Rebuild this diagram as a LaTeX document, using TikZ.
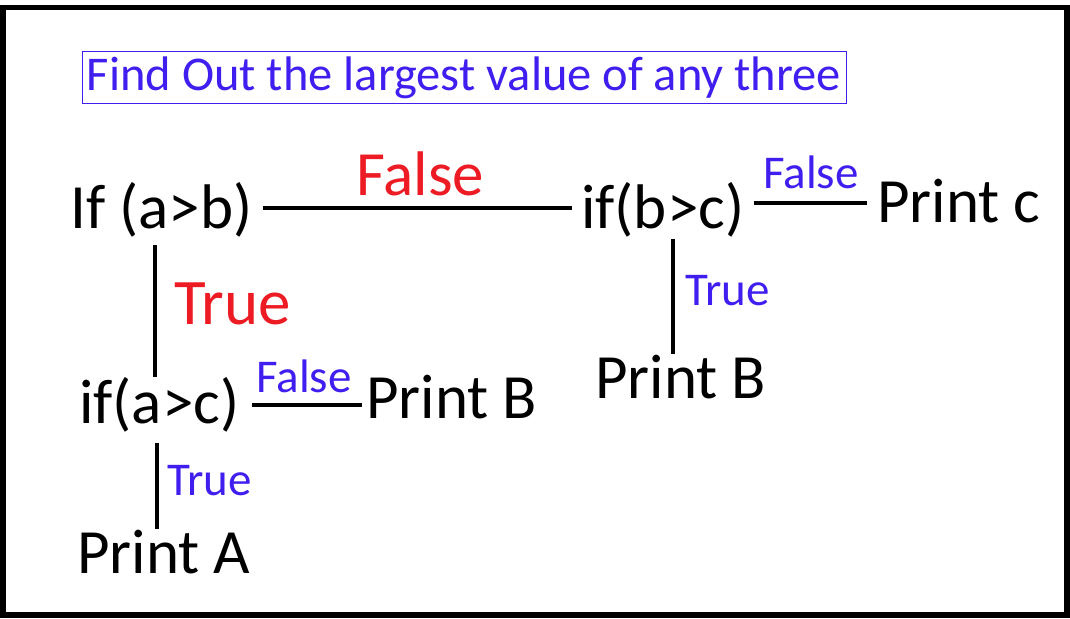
\documentclass[tikz,border=0pt]{standalone}
\usepackage{fontspec}
\setmainfont{Carlito}
\definecolor{tblue}{RGB}{64,30,240}
\definecolor{tred}{RGB}{237,28,36}
\begin{document}
\begin{tikzpicture}[x=1pt,y=-1pt,
  txt/.style={inner sep=0pt,anchor=base west,font=\fontsize{63}{70}\selectfont},
  biglbl/.style={inner sep=0pt,anchor=base west,text=tred,font=\fontsize{#1}{68}\selectfont},
  smalllbl/.style={inner sep=0pt,anchor=base west,text=tblue,font=\fontsize{47}{52}\selectfont},
  conn/.style={line width=4.6pt,draw=black}]
\useasboundingbox (0,0) rectangle (1070,618);
\draw[line width=5.5pt] (3,7.5) rectangle (1067,615);
\node[draw=tblue,line width=1pt,minimum width=764pt,minimum height=51pt,inner sep=0pt,
  text=tblue,font=\fontsize{48.5}{54}\selectfont] (title) at (464,77.5) {Find Out the largest value of any three};
% main nodes
\node[txt] (ab) at (70,228) {If (a>b)};
\node[txt] (bc) at (581,228) {if(b>c)};
\node[txt] (pc) at (877,222) {Print c};
\node[txt] (pbr) at (595,398) {Print B};
\node[txt] (ac) at (79,423) {if(a>c)};
\node[txt] (pbl) at (366,418) {Print B};
\node[txt] (pa) at (77,573) {Print A};
% connectors
\draw[conn] ([xshift=10pt]ab.east |- 0,208) -- ([xshift=-9pt]bc.west |- 0,208);
\draw[conn] ([xshift=10pt]bc.east |- 0,203) -- ([xshift=-10pt]pc.west |- 0,203);
\draw[conn] (155,0 |- ab.south) ++(0,8) coordinate (v1a) -- (v1a |- ac.north) ++(0,-6);
\draw[conn] (673,0 |- bc.south) ++(0,2) coordinate (v2a) -- (v2a |- pbr.north) ++(0,-6);
\draw[conn] ([xshift=13pt]ac.east |- 0,405) -- ([xshift=-4pt]pbl.west |- 0,405);
\draw[conn] (157,0 |- ac.south) ++(0,11) coordinate (v3a) -- (v3a |- pa.north) ++(0,-2);
% labels
\node[biglbl=63] (f1) at (356,195) {False};
\node[biglbl=65] (t1) at (174,324) {True};
\node[smalllbl] (f2) at (763,188) {False};
\node[smalllbl] (t2) at (685,305) {True};
\node[smalllbl] (f3) at (256,392) {False};
\node[smalllbl] (t3) at (167,495) {True};
\end{tikzpicture}
\end{document}
